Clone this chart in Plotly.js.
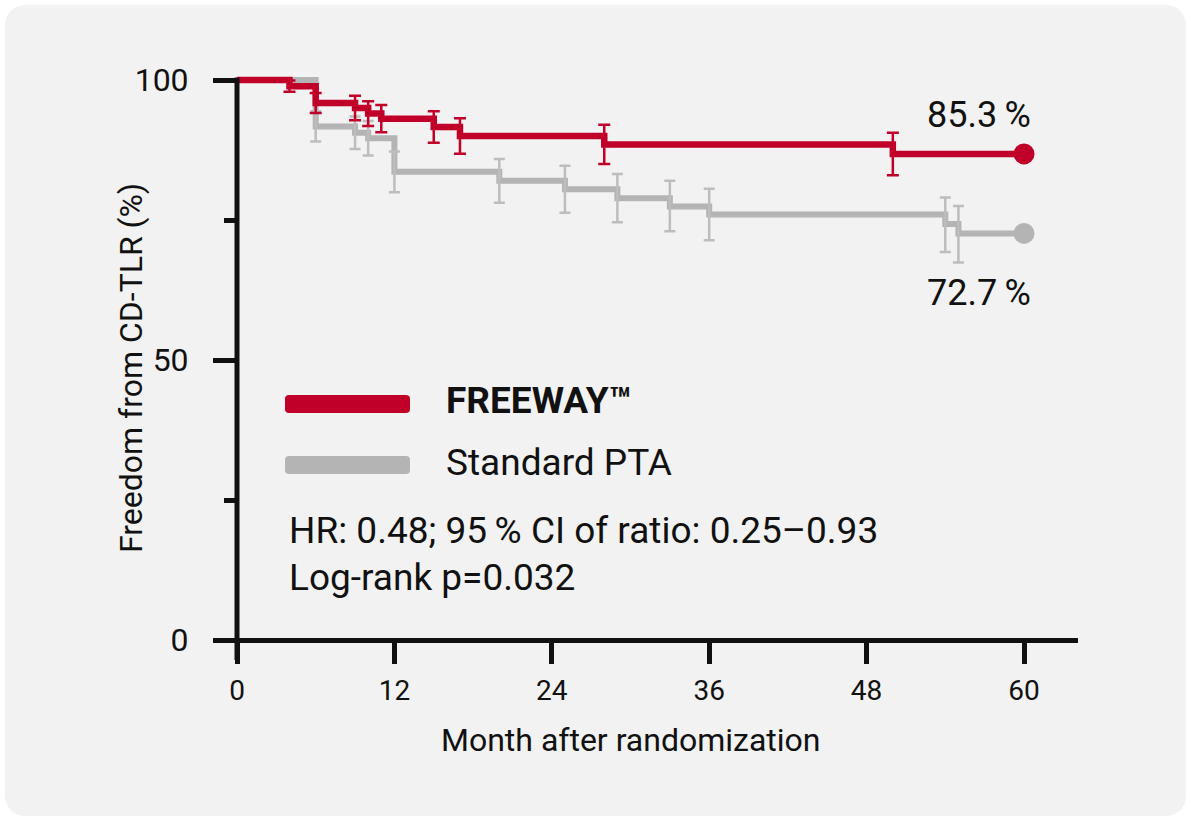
<!DOCTYPE html>
<html>
<head>
<meta charset="utf-8">
<script src="https://cdn.plot.ly/plotly-3.0.1.min.js"></script>
<style>
  html, body { margin: 0; padding: 0; background: #ffffff; }
  #card { position: absolute; left: 5px; top: 5px; width: 1181px; height: 811px; border-radius: 20px; background: #f2f2f2; }
  #chart { position: absolute; left: 0; top: 0; width: 1191px; height: 822px; }
</style>
</head>
<body>
<div id="card"></div>
<div id="chart"></div>
<script>
// ---- data ----
const months_freeway = [0, 4, 6, 9, 10, 11, 15, 17, 28, 50, 60];
const surv_freeway   = [100, 98.9, 95.9, 95.0, 94.0, 93.1, 91.6, 90.0, 88.5, 86.8, 86.8];
const ci_months_freeway = [4, 6, 9, 10, 11, 15, 17, 28, 50];
const ci_half_freeway   = [1.0, 1.8, 2.2, 2.2, 2.45, 2.8, 3.15, 3.5, 3.8];

const months_pta = [0, 6, 9, 10, 12, 20, 25, 29, 33, 36, 54, 55, 60];
const surv_pta   = [100, 91.7, 90.6, 89.6, 83.6, 82.0, 80.5, 78.9, 77.4, 76.0, 74.3, 72.6, 72.6];
const ci_months_pta = [6, 9, 10, 12, 20, 25, 29, 33, 36, 54, 55];
const ci_plus_pta   = [2.7, 2.9, 3.1, 3.65, 3.9, 4.2, 4.3, 4.6, 4.6, 4.7, 4.9];
const ci_minus_pta  = [2.7, 2.9, 3.1, 3.65, 3.9, 4.2, 4.3, 4.4, 4.6, 5.0, 5.2];

const x_ticks = [0, 12, 24, 36, 48, 60];
const y_ticks = [0, 50, 100];
const x_title = "Month after randomization";
const y_title = "Freedom from CD-TLR (%)";
const label_freeway = "FREEWAY™";
const label_pta = "Standard PTA";
const final_freeway = "85.3\u2009%";
const final_pta = "72.7\u2009%";
const stats_line1 = "HR: 0.48; 95\u2009% CI of ratio: 0.25\u20130.93";
const stats_line2 = "Log-rank p=0.032";

// ---- styling ----
const RED = "#c1002a";
const GRAY = "#b4b4b4";
const GRAY_ERR = "#bdbdbd";
const INK = "#111111";
const FONT = "Roboto, 'Open Sans', sans-serif";

// plot area in pixels
const L = 213, R = 1078, T = 70, B = 660;
const X0 = 237, X60 = 1024, Y0 = 640, Y100 = 80;
const xPerPx = 60 / (X60 - X0);
const yPerPx = 100 / (Y0 - Y100);
const xRange = [(L - X0) * xPerPx, (R - X0) * xPerPx];
const yRange = [(Y0 - B) * yPerPx, (Y0 - T) * yPerPx];
function px(xp) { return (xp - L) / (R - L); }
function py(yp) { return (B - yp) / (B - T); }

function lookup(months, surv, m) { return surv[months.indexOf(m)]; }

const traces = [
  {
    x: months_pta, y: surv_pta, type: "scatter", mode: "lines",
    line: { shape: "hv", color: GRAY, width: 6 }, hoverinfo: "skip", showlegend: false
  },
  {
    x: ci_months_pta, y: ci_months_pta.map(m => lookup(months_pta, surv_pta, m)),
    type: "scatter", mode: "markers", marker: { size: 1, color: "rgba(0,0,0,0)" },
    error_y: { type: "data", symmetric: false, array: ci_plus_pta, arrayminus: ci_minus_pta,
               color: GRAY_ERR, thickness: 2.5, width: 5.5 },
    hoverinfo: "skip", showlegend: false
  },
  {
    x: [months_pta[months_pta.length - 1]], y: [surv_pta[surv_pta.length - 1]],
    type: "scatter", mode: "markers", marker: { size: 21, color: GRAY }, cliponaxis: false,
    hoverinfo: "skip", showlegend: false
  },
  {
    x: months_freeway, y: surv_freeway, type: "scatter", mode: "lines",
    line: { shape: "hv", color: RED, width: 6.5 }, hoverinfo: "skip", showlegend: false
  },
  {
    x: ci_months_freeway, y: ci_months_freeway.map(m => lookup(months_freeway, surv_freeway, m)),
    type: "scatter", mode: "markers", marker: { size: 1, color: "rgba(0,0,0,0)" },
    error_y: { type: "data", array: ci_half_freeway, color: RED, thickness: 2.5, width: 6 },
    hoverinfo: "skip", showlegend: false
  },
  {
    x: [months_freeway[months_freeway.length - 1]], y: [surv_freeway[surv_freeway.length - 1]],
    type: "scatter", mode: "markers", marker: { size: 21, color: RED }, cliponaxis: false,
    hoverinfo: "skip", showlegend: false
  }
];

function roundRect(x0p, y0p, x1p, y1p, r) {
  const a = px(x0p), b = px(x1p), c = py(y1p), d = py(y0p);
  const rx = r / (R - L), ry = r / (B - T);
  return `M ${a + rx} ${c} L ${b - rx} ${c} Q ${b} ${c} ${b} ${c + ry} L ${b} ${d - ry} Q ${b} ${d} ${b - rx} ${d} ` +
         `L ${a + rx} ${d} Q ${a} ${d} ${a} ${d - ry} L ${a} ${c + ry} Q ${a} ${c} ${a + rx} ${c} Z`;
}

const layout = {
  width: 1191, height: 822,
  margin: { l: L, r: 1191 - R, t: T, b: 822 - B, pad: 0 },
  paper_bgcolor: "rgba(0,0,0,0)",
  plot_bgcolor: "rgba(0,0,0,0)",
  font: { family: FONT, color: INK },
  showlegend: false,
  xaxis: {
    range: xRange, anchor: "free", position: py(Y0),
    showgrid: false, zeroline: false,
    showline: true, linecolor: INK, linewidth: 5,
    tickmode: "array", tickvals: x_ticks, ticktext: x_ticks.map(String),
    ticks: "outside", ticklen: 21, tickwidth: 5, tickcolor: INK,
    ticklabelstandoff: 2,
    tickfont: { size: 28, family: FONT, color: INK },
    fixedrange: true
  },
  yaxis: {
    range: yRange, anchor: "free", position: px(X0),
    showgrid: false, zeroline: false, showline: false,
    tickmode: "array", tickvals: y_ticks, ticktext: y_ticks.map(String),
    ticks: "outside", ticklen: 24, tickwidth: 5, tickcolor: INK,
    minor: { dtick: 25, ticks: "outside", ticklen: 13, tickwidth: 5, tickcolor: INK },
    ticklabelstandoff: 18,
    tickfont: { size: 32, family: FONT, color: INK },
    fixedrange: true
  },
  shapes: [
    { type: "line", xref: "x", yref: "y", x0: 0, x1: 0, y0: yRange[0], y1: 100 + 2.5 * yPerPx,
      line: { color: INK, width: 5 }, layer: "above" },
    { type: "path", xref: "paper", yref: "paper", path: roundRect(285, 395, 410, 413, 4),
      fillcolor: RED, line: { width: 0 } },
    { type: "path", xref: "paper", yref: "paper", path: roundRect(285, 456, 410, 474, 4),
      fillcolor: GRAY, line: { width: 0 } }
  ],
  annotations: [
    { xref: "paper", yref: "paper", x: px(631), y: py(740), xanchor: "center", yanchor: "middle",
      text: x_title, showarrow: false, font: { size: 32, family: FONT, color: INK } },
    { xref: "paper", yref: "paper", x: px(131), y: py(368), xanchor: "center", yanchor: "middle",
      text: y_title, textangle: -90, showarrow: false, font: { size: 32, family: FONT, color: INK } },
    { xref: "paper", yref: "paper", x: px(444), y: py(401), xanchor: "left", yanchor: "middle",
      text: "<b>" + label_freeway + "</b>", showarrow: false, font: { size: 37, family: FONT, color: INK } },
    { xref: "paper", yref: "paper", x: px(444), y: py(462), xanchor: "left", yanchor: "middle",
      text: label_pta, showarrow: false, font: { size: 37, family: FONT, color: INK } },
    { xref: "paper", yref: "paper", x: px(287), y: py(530), xanchor: "left", yanchor: "middle",
      text: stats_line1, showarrow: false, font: { size: 37, family: FONT, color: INK } },
    { xref: "paper", yref: "paper", x: px(287), y: py(577), xanchor: "left", yanchor: "middle",
      text: stats_line2, showarrow: false, font: { size: 37, family: FONT, color: INK } },
    { xref: "paper", yref: "paper", x: px(1033), y: py(115), xanchor: "right", yanchor: "middle",
      text: final_freeway, showarrow: false, font: { size: 36, family: FONT, color: INK } },
    { xref: "paper", yref: "paper", x: px(1033), y: py(293), xanchor: "right", yanchor: "middle",
      text: final_pta, showarrow: false, font: { size: 36, family: FONT, color: INK } }
  ]
};

Plotly.newPlot("chart", traces, layout, { staticPlot: true, displayModeBar: false });
</script>
</body>
</html>
